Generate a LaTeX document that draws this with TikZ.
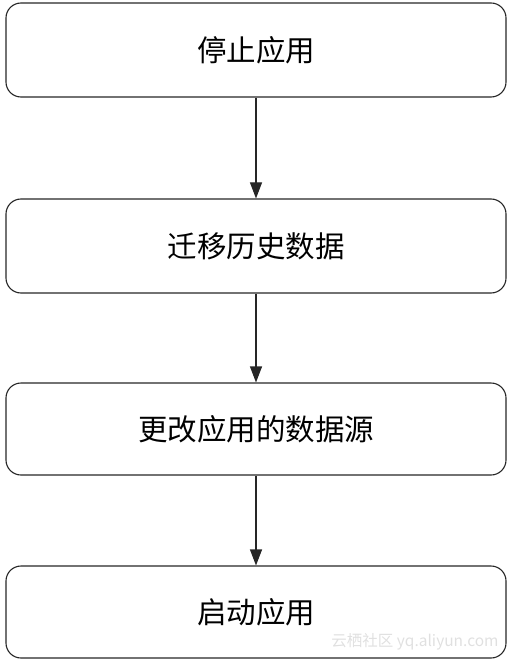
\documentclass[tikz,border=0pt]{standalone}
\usepackage{fontspec}
\setmainfont{Noto Sans CJK SC}
\usetikzlibrary{arrows.meta}
\tikzset{stepbox/.style={draw=black!85,line width=1.1pt,rounded corners=15pt,minimum width=500pt,inner sep=0pt,font=\fontsize{29.5}{33}\selectfont}}
\begin{document}
\begin{tikzpicture}[x=1pt,y=-1pt]
        \useasboundingbox (0,0) rectangle (510,660);
        \node[stepbox,minimum height=94pt] (stop) at (256,50) {停止应用};
        \node[stepbox,minimum height=94pt] (migrate) at (256,246) {迁移历史数据};
        \node[stepbox,minimum height=92pt] (change) at (256,429) {更改应用的数据源};
        \node[stepbox,minimum height=92pt] (start) at (256,612) {启动应用};
        \draw[-{Triangle[width=12pt,length=16pt]},line width=1.1pt,black!85] (stop) -- (migrate);
        \draw[-{Triangle[width=12pt,length=16pt]},line width=1.1pt,black!85] (migrate) -- (change);
        \draw[-{Triangle[width=12pt,length=16pt]},line width=1.1pt,black!85] (change) -- (start);
        \node[text=black!12,font=\fontsize{15.5}{17}\selectfont] (mark) at (415,642) {云栖社区 yq.aliyun.com};
    \end{tikzpicture}
\end{document}
